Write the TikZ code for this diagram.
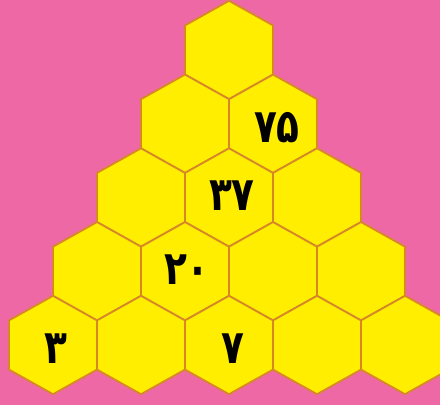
\documentclass[tikz,border=0pt]{standalone}
\usepackage{fontspec}
\newfontfamily\pfont[Script=Arabic]{DejaVu Sans}
\definecolor{bgpink}{RGB}{238,104,166}
\definecolor{hexyellow}{RGB}{255,238,0}
\definecolor{hexedge}{RGB}{215,135,40}
\tikzset{
  hexcell/.style={fill=hexyellow,draw=hexedge,line width=1.8bp,line join=round},
  numlabel/.style={font=\pfont\bfseries\fontsize{47}{47}\selectfont,text=black,inner sep=0pt,xscale=0.8}
}
\begin{document}
\begin{tikzpicture}[x=1bp,y=-1bp]
\useasboundingbox (0,0) rectangle (440,405);
\clip (0,0) rectangle (440,405);
\fill[bgpink] (0,0) rectangle (440,405);
\def\hw{44}
\def\hr{49.2}
% rows: row index r (0..4), y = 50 + 73.75 r, cells k = 0..r, x = 229 - 44 r + 88 k
\foreach \r in {0,...,4}{
  \foreach \k in {0,...,\r}{
    \pgfmathsetmacro{\cx}{229-44*\r+88*\k}
    \pgfmathsetmacro{\cy}{50+73.75*\r}
    \draw[hexcell] (\cx,\cy-\hr) -- (\cx+\hw,\cy-\hr/2) -- (\cx+\hw,\cy+\hr/2)
      -- (\cx,\cy+\hr) -- (\cx-\hw,\cy+\hr/2) -- (\cx-\hw,\cy-\hr/2) -- cycle;
  }
}
\node[numlabel] (n75) at (277,128) {۷۵};
\node[numlabel] (n37) at (232,196) {۳۷};
\node[numlabel] (n20) at (187,270) {۲۰};
\node[numlabel] (n3) at (56,349) {۳};
\node[numlabel] (n7) at (233,349) {۷};
\end{tikzpicture}
\end{document}
